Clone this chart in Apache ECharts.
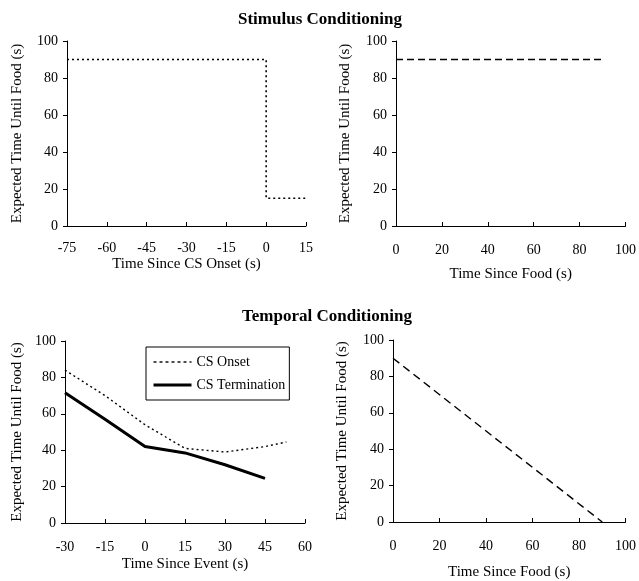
<!DOCTYPE html>
<html>
<head>
<meta charset="utf-8">
<script src="https://cdn.jsdelivr.net/npm/echarts@6/dist/echarts.min.js"></script>
<style>
  html, body { margin: 0; padding: 0; background: #fff; }
  #chart { width: 639px; height: 581px; }
</style>
</head>
<body>
<div id="chart"></div>
<script>
// stimulus conditioning, left: expected wait vs time since CS onset
const stimOnsetX = [-75, 0, 0, 15]
const stimOnsetY = [90, 90, 15, 15]
// stimulus conditioning, right: expected wait vs time since food
const stimFoodX = [0, 90]
const stimFoodY = [90, 90]
// temporal conditioning, left
const csOnsetX = [-30, -15, 0, 15, 30, 45, 53]
const csOnsetY = [84, 70, 54, 41, 39, 42, 44.5]
const csTermX = [-30, -15, 0, 15, 30, 45]
const csTermY = [71.5, 57, 42, 38.5, 32, 24.5]
// temporal conditioning, right
const tempFoodX = [0, 90]
const tempFoodY = [90, 0]

const yTicks = [0, 20, 40, 60, 80, 100]

const FONT = "'Liberation Serif', 'Times New Roman', serif"
const INK = '#000'

function pairs(xs, ys) {
  return xs.map((x, i) => [x, ys[i]])
}

function xAxis(gridIndex, min, max, interval, name, labelMargin, nameGap) {
  return {
    type: 'value',
    gridIndex,
    min, max, interval,
    name,
    nameLocation: 'middle',
    nameGap,
    nameTextStyle: { fontFamily: FONT, fontSize: 15, color: INK },
    axisLine: { show: true, onZero: false, lineStyle: { color: INK, width: 1 } },
    axisTick: { show: true, inside: true, length: 4, lineStyle: { color: INK } },
    axisLabel: { fontFamily: FONT, fontSize: 14, color: INK, margin: labelMargin },
    splitLine: { show: false },
  }
}

function yAxis(gridIndex, nameGap) {
  return {
    type: 'value',
    gridIndex,
    min: yTicks[0],
    max: yTicks[yTicks.length - 1],
    interval: yTicks[1] - yTicks[0],
    name: 'Expected Time Until Food (s)',
    nameLocation: 'middle',
    nameRotate: 90,
    nameGap,
    nameTextStyle: { fontFamily: FONT, fontSize: 15, color: INK },
    axisLine: { show: true, onZero: false, lineStyle: { color: INK, width: 1 } },
    axisTick: { show: true, length: 4, lineStyle: { color: INK } },
    axisLabel: { fontFamily: FONT, fontSize: 14, color: INK, margin: 9 },
    splitLine: { show: false },
  }
}

function lineSeries(name, idx, data, lineStyle) {
  return {
    name,
    type: 'line',
    xAxisIndex: idx,
    yAxisIndex: idx,
    data,
    symbol: 'none',
    showSymbol: false,
    animation: false,
    itemStyle: { color: INK },
    lineStyle: Object.assign({ color: INK }, lineStyle),
  }
}

const chart = echarts.init(document.getElementById('chart'))
chart.setOption({
  backgroundColor: '#fff',
  animation: false,
  title: [
    {
      text: 'Stimulus Conditioning',
      left: 238, top: 11, padding: 0,
      textStyle: { fontFamily: FONT, fontSize: 17, fontWeight: 'bold', color: INK },
    },
    {
      text: 'Temporal Conditioning',
      left: 242, top: 308, padding: 0,
      textStyle: { fontFamily: FONT, fontSize: 17, fontWeight: 'bold', color: INK },
    },
  ],
  grid: [
    { left: 67, top: 41, width: 239, height: 185 },
    { left: 396, top: 41, width: 230, height: 185 },
    { left: 65, top: 341, width: 240, height: 182 },
    { left: 393, top: 340, width: 234, height: 182 },
  ],
  xAxis: [
    xAxis(0, -75, 15, 15, 'Time Since CS Onset (s)', 15, 31),
    xAxis(1, 0, 100, 20, 'Time Since Food (s)', 17, 41),
    xAxis(2, -30, 60, 15, 'Time Since Event (s)', 17, 34),
    xAxis(3, 0, 100, 20, 'Time Since Food (s)', 17, 43),
  ],
  yAxis: [yAxis(0, 42), yAxis(1, 43), yAxis(2, 40), yAxis(3, 43)],
  legend: {
    data: [
      { name: 'CS Onset', lineStyle: { width: 1.4, type: [3, 3] } },
      { name: 'CS Termination', lineStyle: { width: 3 } },
    ],
    orient: 'vertical',
    left: 146, top: 347,
    padding: [8, 4, 8, 6],
    itemGap: 9,
    itemWidth: 38,
    itemHeight: 14,
    borderColor: INK,
    borderWidth: 1,
    itemStyle: { opacity: 0 },
    textStyle: { fontFamily: FONT, fontSize: 14, color: INK },
  },
  series: [
    lineSeries('stim-onset', 0, pairs(stimOnsetX, stimOnsetY), { width: 1.6, type: [2, 3] }),
    lineSeries('stim-food', 1, pairs(stimFoodX, stimFoodY), { width: 1.4, type: [7, 4] }),
    lineSeries('CS Onset', 2, pairs(csOnsetX, csOnsetY), { width: 1.4, type: [2, 3] }),
    lineSeries('CS Termination', 2, pairs(csTermX, csTermY), { width: 3 }),
    lineSeries('temp-food', 3, pairs(tempFoodX, tempFoodY), { width: 1.4, type: [8, 5] }),
  ],
})
</script>
</body>
</html>
